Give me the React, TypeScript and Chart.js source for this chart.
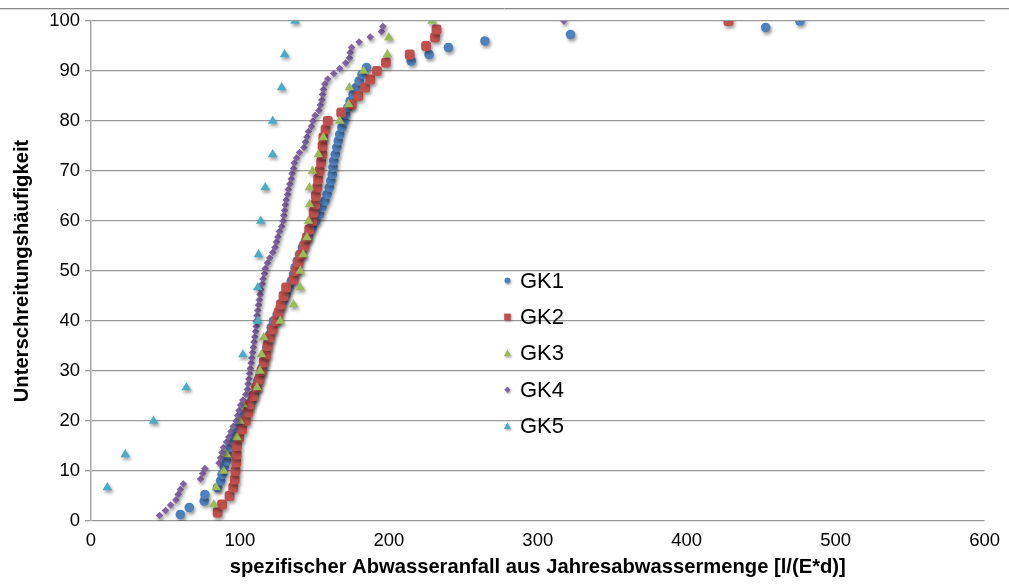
import React, { useEffect, useRef } from "react";
import { Chart, registerables } from "chart.js";

Chart.register(...registerables);

const FONT = "'Liberation Sans', Arial, Helvetica, sans-serif";

const xTickValues = [0, 100, 200, 300, 400, 500, 600];
const yTickValues = [0, 10, 20, 30, 40, 50, 60, 70, 80, 90, 100];
const xTitle = "spezifischer Abwasseranfall aus Jahresabwassermenge [l/(E*d)]";
const yTitle = "Unterschreitungshäufigkeit";

const seriesNames = ["GK1", "GK2", "GK3", "GK4", "GK5"];
const seriesColors = ["#4F81BD", "#C0504D", "#9BBB59", "#8064A2", "#4BACC6"];

const gk1X = [60, 66, 76, 76.5, 85, 87, 88, 89.5, 91, 92, 93.5, 95, 96.5, 98, 100, 103, 106, 108, 109.5, 111, 112, 113.5, 115, 116, 117, 118, 119, 120, 121, 122.5, 125, 127, 129, 131, 133, 134.5, 136, 137, 138.5, 140, 142, 144, 146, 148.5, 151, 153.5, 155, 157, 158.5, 160, 161, 162, 162.5, 163, 164, 165, 166, 167, 168.5, 170, 171, 172.5, 174, 176, 178, 180, 182, 185, 215, 227, 240, 264.5, 322, 453, 476];
const gk1Y = [1.3, 2.7, 4.0, 5.3, 6.7, 8.0, 9.3, 10.7, 12.0, 13.3, 14.7, 16.0, 17.3, 18.7, 20.0, 21.3, 22.7, 24.0, 25.3, 26.7, 28.0, 29.3, 30.7, 32.0, 33.3, 34.7, 36.0, 37.3, 38.7, 40.0, 41.3, 42.7, 44.0, 45.3, 46.7, 48.0, 49.3, 50.7, 52.0, 53.3, 54.7, 56.0, 57.3, 58.7, 60.0, 61.3, 62.7, 64.0, 65.3, 66.7, 68.0, 69.3, 70.7, 72.0, 73.3, 74.7, 76.0, 77.3, 78.7, 80.0, 81.3, 82.7, 84.0, 85.3, 86.7, 88.0, 89.3, 90.7, 92.0, 93.3, 94.7, 96.0, 97.3, 98.7, 100];

const gk2X = [85, 88, 93, 95.5, 96.5, 97, 97.5, 97.8, 98, 99.5, 101.5, 104, 105.5, 106.5, 109, 111, 113, 114.5, 116, 117.5, 118.5, 120, 122, 124, 126, 127.5, 129.3, 131, 136, 137.5, 139.3, 141, 143, 145, 146.5, 148.5, 149.5, 150.5, 151, 152, 152.5, 153.5, 154.5, 155.3, 155.5, 156, 157.5, 159, 168, 175, 179.5, 184, 187.5, 192, 198, 214, 225, 231, 232, 428];
const gk2Y = [1.7, 3.3, 5.0, 6.7, 8.3, 10.0, 11.7, 13.3, 15.0, 16.7, 18.3, 20.0, 21.7, 23.3, 25.0, 26.7, 28.3, 30.0, 31.7, 33.3, 35.0, 36.7, 38.3, 40.0, 41.7, 43.3, 45.0, 46.7, 48.3, 50.0, 51.7, 53.3, 55.0, 56.7, 58.3, 60.0, 61.7, 63.3, 65.0, 66.7, 68.3, 70.0, 71.7, 73.3, 75.0, 76.7, 78.3, 80.0, 81.7, 83.3, 85.0, 86.7, 88.3, 90.0, 91.7, 93.3, 95.0, 96.7, 98.3, 100];

const gk3X = [82.5, 84, 89, 91, 98, 100, 102, 111.5, 113.5, 114.5, 116, 127, 136, 140.5, 140.5, 142.5, 145, 146, 146.7, 146.7, 148.7, 152.7, 156, 167, 173, 173.5, 183, 199, 200, 229];
const gk3Y = [3.3, 6.7, 10, 13.3, 16.7, 20, 23.3, 26.7, 30, 33.3, 36.7, 40, 43.3, 46.7, 50, 53.3, 56.7, 60, 63.3, 66.7, 70, 73.3, 76.7, 80, 83.3, 86.7, 90, 93.3, 96.7, 100];

const gk4X = [46, 50, 53.5, 57, 58.5, 60, 62, 73.5, 75, 76.5, 86, 87, 88, 89, 91, 92.5, 94, 95.5, 97.5, 98.5, 99.5, 100.5, 102, 104, 105, 105.5, 106, 106.5, 107, 107.5, 108, 108.5, 109, 109.5, 110, 110.5, 111, 111, 111.5, 112, 112.5, 113, 113.5, 114, 115, 115.5, 116.5, 117, 118.5, 120, 122, 123.5, 124.5, 125.5, 126.5, 128, 129, 129.5, 130, 130.5, 131, 132, 132.5, 133.5, 134.5, 135, 136, 136.5, 138, 140, 143, 144, 145, 146, 148, 149, 150.5, 153, 154, 155, 155.5, 156, 157, 159, 163, 167, 171, 173.5, 174, 175, 180, 187.5, 195, 196, 317.5];
const gk4Y = [1.1, 2.1, 3.2, 4.2, 5.3, 6.3, 7.4, 8.4, 9.5, 10.5, 11.6, 12.6, 13.7, 14.7, 15.8, 16.8, 17.9, 18.9, 20.0, 21.1, 22.1, 23.2, 24.2, 25.3, 26.3, 27.4, 28.4, 29.5, 30.5, 31.6, 32.6, 33.7, 34.7, 35.8, 36.8, 37.9, 38.9, 40.0, 41.1, 42.1, 43.2, 44.2, 45.3, 46.3, 47.4, 48.4, 49.5, 50.5, 51.6, 52.6, 53.7, 54.7, 55.8, 56.8, 57.9, 58.9, 60.0, 61.1, 62.1, 63.2, 64.2, 65.3, 66.3, 67.4, 68.4, 69.5, 70.5, 71.6, 72.6, 73.7, 74.7, 75.8, 76.8, 77.9, 78.9, 80.0, 81.1, 82.1, 83.2, 84.2, 85.3, 86.3, 87.4, 88.4, 89.5, 90.5, 91.6, 92.6, 93.7, 94.7, 95.8, 96.8, 97.9, 98.9, 100];

const gk5X = [11, 23, 42, 64, 102, 112, 112, 112.5, 114, 117, 122, 122, 128, 130, 137];
const gk5Y = [6.7, 13.3, 20, 26.7, 33.3, 40, 46.7, 53.3, 60, 66.7, 73.3, 80, 86.7, 93.3, 100];

const seriesX = [gk1X, gk2X, gk3X, gk4X, gk5X];
const seriesY = [gk1Y, gk2Y, gk3Y, gk4Y, gk5Y];
const pointStyles = ["circle", "rectRounded", "triangle", "rectRot", "triangle"];
const pointRadii = [4.8, 5.7, 5.6, 3.8, 5.6];
const legendShapes = ["circle", "rect", "triangle", "diamond", "triangle"];

function drawLegendMarker(ctx: CanvasRenderingContext2D, shape: string, x: number, y: number, r: number, color: string) {
  ctx.fillStyle = color;
  ctx.beginPath();
  if (shape === "circle") {
    ctx.arc(x, y, r, 0, Math.PI * 2);
  } else if (shape === "rect") {
    ctx.rect(x - r, y - r, 2 * r, 2 * r);
  } else if (shape === "triangle") {
    ctx.moveTo(x, y - r * 1.1);
    ctx.lineTo(x + r, y + r * 0.8);
    ctx.lineTo(x - r, y + r * 0.8);
    ctx.closePath();
  } else {
    ctx.moveTo(x, y - r);
    ctx.lineTo(x + r, y);
    ctx.lineTo(x, y + r);
    ctx.lineTo(x - r, y);
    ctx.closePath();
  }
  ctx.fill();
}

const framePlugin = {
  id: "frameLine",
  beforeDraw(chart: any) {
    const ctx = chart.ctx;
    ctx.save();
    ctx.fillStyle = "#ffffff";
    ctx.fillRect(0, 0, chart.width, chart.height);
    ctx.strokeStyle = "#8a8a8a";
    ctx.lineWidth = 1;
    ctx.beginPath();
    ctx.moveTo(0, 8.5);
    ctx.lineTo(chart.width, 8.5);
    ctx.stroke();
    ctx.strokeStyle = "#dcdcdc";
    ctx.beginPath();
    ctx.moveTo(0, 9.5);
    ctx.lineTo(chart.width, 9.5);
    ctx.stroke();
    ctx.restore();
  },
};

const shadowPlugin = {
  id: "markerShadow",
  beforeDatasetsDraw(chart: any) {
    const ctx = chart.ctx;
    ctx.save();
    ctx.shadowColor = "rgba(0,0,0,0.4)";
    ctx.shadowBlur = 3.5;
    ctx.shadowOffsetX = 1.5;
    ctx.shadowOffsetY = 2.5;
  },
  afterDatasetsDraw(chart: any) {
    chart.ctx.restore();
  },
};

const legendPlugin = {
  id: "insideLegend",
  afterDraw(chart: any) {
    const ctx = chart.ctx;
    const area = chart.chartArea;
    const mx = area.left + 416.5;
    const tx = area.left + 429;
    const y0 = area.top + 259.5;
    const step = 36.4;
    ctx.save();
    ctx.font = `22px ${FONT}`;
    ctx.textBaseline = "middle";
    ctx.textAlign = "left";
    const sizes = [3, 3.3, 3.6, 3.2, 3.6];
    seriesNames.forEach((name, i) => {
      const y = y0 + i * step;
      ctx.save();
      ctx.shadowColor = "rgba(0,0,0,0.3)";
      ctx.shadowBlur = 2;
      ctx.shadowOffsetX = 1;
      ctx.shadowOffsetY = 1.5;
      drawLegendMarker(ctx, legendShapes[i], mx, y, sizes[i], seriesColors[i]);
      ctx.restore();
      ctx.fillStyle = "#000000";
      ctx.fillText(name, tx, y + 1);
    });
    ctx.restore();
  },
};

export default function App() {
  const canvasRef = useRef<HTMLCanvasElement | null>(null);

  useEffect(() => {
    const canvas = canvasRef.current;
    if (!canvas) return;

    const datasets = seriesNames.map((name, i) => ({
      label: name,
      data: seriesX[i].map((x, j) => ({ x, y: seriesY[i][j] })),
      showLine: false,
      pointStyle: pointStyles[i],
      pointRadius: pointRadii[i],
      pointHoverRadius: pointRadii[i],
      pointBackgroundColor: seriesColors[i],
      pointBorderColor: seriesColors[i],
      pointBorderWidth: 0,
      order: 5 - i,
    }));

    const chart = new Chart(canvas, {
      type: "scatter",
      data: { datasets } as any,
      plugins: [framePlugin, shadowPlugin, legendPlugin],
      options: {
        responsive: false,
        animation: false,
        devicePixelRatio: 1,
        layout: { padding: { top: 21, right: 23, left: 0, bottom: 0 } },
        plugins: {
          legend: { display: false },
          tooltip: { enabled: false },
        },
        scales: {
          x: {
            type: "linear",
            min: 0,
            max: 600,
            afterBuildTicks(scale: any) {
              scale.ticks = xTickValues.map((v) => ({ value: v }));
            },
            ticks: {
              color: "#000000",
              font: { family: FONT, size: 18.5 },
              padding: 9,
              maxRotation: 0,
            },
            grid: { display: false, drawTicks: false },
            border: { display: false },
            title: {
              display: true,
              text: xTitle,
              color: "#000000",
              font: { family: FONT, size: 20.2, weight: "bold" },
              padding: { top: 0, bottom: 4 },
            },
            afterFit(scale: any) {
              scale.height = 63;
            },
          },
          y: {
            type: "linear",
            min: 0,
            max: 100,
            afterBuildTicks(scale: any) {
              scale.ticks = yTickValues.map((v) => ({ value: v }));
            },
            ticks: {
              color: "#000000",
              font: { family: FONT, size: 18.5 },
              padding: 5,
            },
            grid: { color: "#999999", lineWidth: 1.3, tickLength: 6, drawTicks: true },
            border: { display: true, color: "#a8a8a8", width: 1.5 },
            title: {
              display: true,
              text: yTitle,
              color: "#000000",
              font: { family: FONT, size: 20.2, weight: "bold" },
              padding: { top: 10, bottom: 0 },
            },
            afterFit(scale: any) {
              scale.width = 91;
            },
          },
        },
      } as any,
    });

    return () => {
      chart.destroy();
    };
  }, []);

  return (
    <div style={{ position: "fixed", left: 0, top: 0, width: 1009, height: 584, background: "#fff" }}>
      <canvas ref={canvasRef} width={1009} height={584} style={{ display: "block", width: 1009, height: 584 }} />
    </div>
  );
}
